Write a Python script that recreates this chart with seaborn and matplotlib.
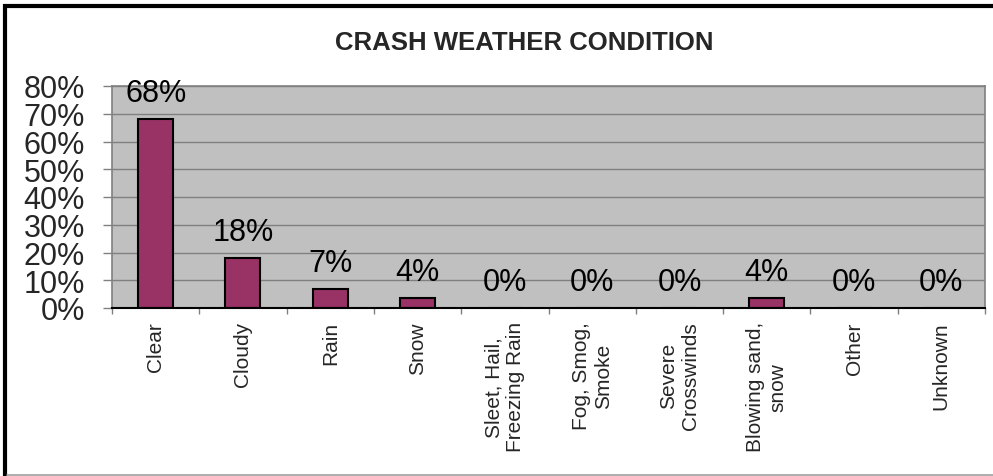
import matplotlib
matplotlib.use("Agg")
import matplotlib.pyplot as plt
from matplotlib.lines import Line2D
from matplotlib.ticker import FixedLocator, PercentFormatter
import seaborn as sns
import pandas as pd

# chart data
categories = [
    "Clear", "Cloudy", "Rain", "Snow", "Sleet, Hail,\nFreezing Rain",
    "Fog, Smog,\nSmoke", "Severe\nCrosswinds", "Blowing sand,\nsnow",
    "Other", "Unknown",
]
shares = [0.68, 0.18, 0.07, 0.036, 0.0, 0.0, 0.0, 0.036, 0.0, 0.0]
title = "CRASH WEATHER CONDITION"

df = pd.DataFrame({"Condition": categories, "Share": shares})

sns.set_style("white")
plt.rcParams["font.family"] = ["Liberation Sans", "DejaVu Sans"]

W, H = 993, 477
fig = plt.figure(figsize=(W / 100, H / 100), dpi=100)
ax = fig.add_axes([112 / W, 1 - 309 / H, (985 - 112) / W, (309 - 87) / H])

sns.barplot(data=df, x="Condition", y="Share", color="#993366",
            edgecolor="black", linewidth=1.5, width=0.4, saturation=1, ax=ax)

ax.set_facecolor("#C0C0C0")
ax.set_ylim(0, 0.8)
ax.set_xlim(-0.5, len(categories) - 0.5)
ax.set_yticks([i / 10 for i in range(9)])
ax.yaxis.set_major_formatter(PercentFormatter(1.0, decimals=0))
ax.yaxis.grid(True, color="#808080", lw=1)
ax.set_axisbelow(True)
ax.set_xlabel("")
ax.set_ylabel("")

ax.tick_params(axis="y", labelsize=22, length=6.5, color="#808080",
               pad=13, left=True, width=1)
ax.set_xticks(range(len(categories)))
ax.set_xticklabels(categories, rotation=90, ha="center", va="top",
                   multialignment="center", fontsize=15)
ax.tick_params(axis="x", which="major", length=0, pad=9.5)
ax.xaxis.set_minor_locator(FixedLocator([i - 0.5 for i in range(len(categories) + 1)]))
ax.tick_params(axis="x", which="minor", length=4, color="#808080",
               width=1, bottom=True)

for s in ["top", "right", "left"]:
    ax.spines[s].set_color("#808080")
    ax.spines[s].set_linewidth(1.2)
ax.spines["bottom"].set_color("black")
ax.spines["bottom"].set_linewidth(1.5)

# value labels above bars
for i, v in enumerate(shares):
    ax.annotate(f"{round(v * 100)}%", xy=(i, v), xytext=(0, 18.7),
                textcoords="offset points", ha="center", va="center",
                fontsize=22, color="black", annotation_clip=False)

fig.text(524 / W, 1 - 43 / H, title, ha="center", va="center",
         fontsize=18.5, fontweight="bold")

# chart frame
fig.add_artist(Line2D([5 / W, 5 / W], [0, 1 - 5 / H], color="black", lw=3,
                      transform=fig.transFigure, solid_capstyle="butt"))
fig.add_artist(Line2D([3 / W, 1], [1 - 7 / H, 1 - 7 / H], color="black", lw=3,
                      transform=fig.transFigure, solid_capstyle="butt"))
fig.add_artist(Line2D([7 / W, 1], [1 - 476 / H, 1 - 476 / H], color="#A0A0A0",
                      lw=1.2, transform=fig.transFigure))

fig.savefig("out.png", dpi=100)
